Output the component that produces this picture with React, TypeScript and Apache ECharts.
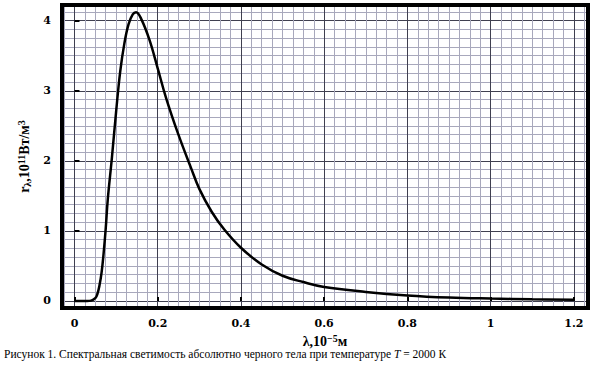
import { useEffect, useRef } from 'react';
import * as echarts from 'echarts';

// wavelength, units of 10^-5 m
const wavelength = [
  0, 0.03, 0.04, 0.05, 0.055, 0.06, 0.065, 0.07, 0.075, 0.08, 0.09, 0.1, 0.11, 0.12, 0.13,
  0.14, 0.148, 0.16, 0.18, 0.2, 0.22, 0.25, 0.28, 0.3, 0.33, 0.36, 0.4, 0.45, 0.5, 0.55,
  0.6, 0.7, 0.8, 0.9, 1.0, 1.1, 1.2,
];
// spectral exitance, units of 10^11 W/m^3
const exitance = [
  0, 0, 0.005, 0.04, 0.1, 0.22, 0.4, 0.68, 1.03, 1.45, 2.05, 2.7, 3.28, 3.68, 3.95,
  4.09, 4.12, 4.03, 3.73, 3.32, 2.9, 2.37, 1.9, 1.6, 1.27, 1.02, 0.76, 0.52, 0.36, 0.27,
  0.2, 0.13, 0.08, 0.05, 0.035, 0.025, 0.018,
];
const xTickLabels = ['0', '0.2', '0.4', '0.6', '0.8', '1', '1.2'];
const yTickLabels = ['0', '1', '2', '3', '4'];
const captionMain = 'Рисунок 1. Спектральная светимость абсолютно черного тела при температуре ';
const captionVar = 'T';
const captionTail = ' = 2000 К';

const FONT = 'Liberation Serif';
const TICKFONT = 'DejaVu Serif';

function pickLabel(labels: string[]) {
  return (v: number) => {
    const hit = labels.find((l) => Math.abs(Number(l) - v) < 1e-6);
    return hit === undefined ? '' : hit;
  };
}

const richBase = {
  b: { fontFamily: FONT, fontWeight: 'bold', fontSize: 14, lineHeight: 14, color: '#000' },
  sup: { fontFamily: FONT, fontWeight: 'bold', fontSize: 10, lineHeight: 10, color: '#000', padding: [0, 0, 6, 0] },
  sub: { fontFamily: FONT, fontWeight: 'bold', fontSize: 10, lineHeight: 10, color: '#000', padding: [6, 0, 0, 0] },
};

export default function App() {
  const ref = useRef<HTMLDivElement>(null);
  useEffect(() => {
    document.body.style.margin = '0';
    const chart = echarts.init(ref.current!, null, { renderer: 'svg' });
    const minor = '#a8a8bc';
    const major = '#404050';
    chart.setOption({
      animation: false,
      backgroundColor: '#fff',
      grid: {
        show: true,
        z: 10,
        left: 62,
        top: 5,
        right: 5,
        bottom: 57,
        backgroundColor: 'rgba(0,0,0,0)',
        borderColor: '#000',
        borderWidth: 4,
      },
      xAxis: {
        type: 'value',
        min: -0.03,
        max: 1.234,
        splitNumber: 6,
        axisLine: { show: false },
        axisTick: { show: true, inside: true, length: 4, lineStyle: { color: '#000', width: 2 } },
        axisLabel: {
          formatter: pickLabel(xTickLabels),
          fontFamily: TICKFONT,
          fontWeight: 'bold',
          fontSize: 11,
          color: '#000',
          margin: 10,
        },
        splitLine: { show: true, lineStyle: { color: major, width: 1 } },
        minorTick: { show: false, splitNumber: 8 },
        minorSplitLine: { show: true, lineStyle: { color: minor, width: 1 } },
        name: '{b|λ,10}{sup|−5}{b|м}',
        nameLocation: 'middle',
        nameGap: 18,
        nameTextStyle: { rich: richBase },
      },
      yAxis: {
        type: 'value',
        min: -0.1,
        max: 4.224,
        splitNumber: 5,
        axisLine: { show: false },
        axisTick: { show: true, inside: true, length: 5, lineStyle: { color: '#000', width: 2 } },
        axisLabel: {
          formatter: pickLabel(yTickLabels),
          fontFamily: TICKFONT,
          fontWeight: 'bold',
          fontSize: 11,
          color: '#000',
          margin: 11,
        },
        splitLine: { show: true, lineStyle: { color: major, width: 1 } },
        minorTick: { show: false, splitNumber: 8 },
        minorSplitLine: { show: true, lineStyle: { color: minor, width: 1 } },
        name: '{b|r}{sub|λ}{b|,10}{sup|11}{b|Вт/м}{sup|3}',
        nameLocation: 'middle',
        nameGap: 29,
        nameTextStyle: { rich: richBase },
      },
      series: [
        {
          type: 'line',
          data: wavelength.map((x, i) => [x, exitance[i]]),
          showSymbol: false,
          smooth: 0.4,
          lineStyle: { color: '#000', width: 2.5 },
        },
      ],
      graphic: [
        {
          type: 'text',
          left: 4,
          top: 348,
          style: {
            text: `{n|${captionMain}}{i|${captionVar}}{n|${captionTail}}`,
            rich: {
              n: { fontFamily: FONT, fontSize: 11.5, fill: '#000' },
              i: { fontFamily: FONT, fontSize: 11.5, fontStyle: 'italic', fill: '#000' },
            },
          },
        },
      ],
    });
    return () => chart.dispose();
  }, []);
  return <div ref={ref} style={{ width: 593, height: 365 }} />;
}
